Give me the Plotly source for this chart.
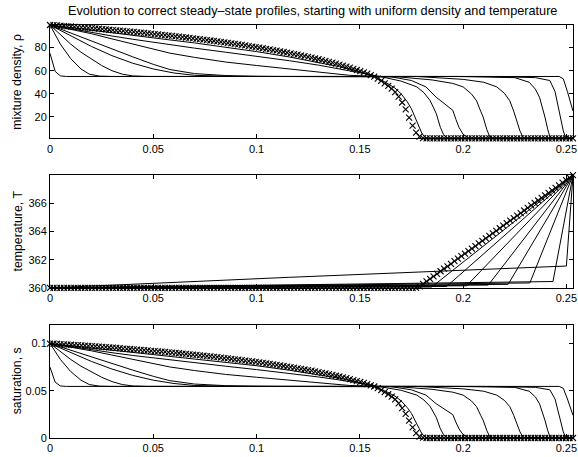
import plotly.graph_objects as go

# ---- steady-state profiles on the uniform mesh (150 cells over the column) ----
column_length = 0.2532
n_cells = 150
mesh_x = [round(i * column_length / n_cells, 5) for i in range(n_cells + 1)]

steady_rho = [
    99.5, 99.3, 99.1, 98.85, 98.6, 98.4, 98.2, 97.95, 97.7, 97.5,
    97.25, 97.0, 96.75, 96.5, 96.25, 95.95, 95.7, 95.4, 95.15, 94.9,
    94.6, 94.35, 94.05, 93.8, 93.5, 93.2, 92.9, 92.6, 92.3, 92.0,
    91.7, 91.4, 91.05, 90.75, 90.4, 90.1, 89.75, 89.4, 89.05, 88.7,
    88.35, 88.0, 87.6, 87.25, 86.85, 86.45, 86.1, 85.7, 85.25, 84.85,
    84.45, 84.0, 83.6, 83.15, 82.7, 82.25, 81.8, 81.3, 80.85, 80.4,
    79.9, 79.4, 78.9, 78.35, 77.8, 77.3, 76.75, 76.15, 75.6, 75.0,
    74.4, 73.8, 73.2, 72.55, 71.9, 71.25, 70.55, 69.9, 69.15, 68.4,
    67.7, 66.9, 66.1, 65.25, 64.35, 63.5, 62.6, 61.6, 60.6, 59.6,
    58.6, 57.4, 56.2, 54.9, 53.2, 51.2, 49.1, 46.9, 44.5, 41.5,
    37.5, 32.5, 26.5, 19.5, 12.5, 6.5, 3.0, 1.8, 1.5,
] + [1.5] * 42

steady_T = [360.0] * 106 + [
    360.10, 360.28, 360.46, 360.64, 360.82, 361.00, 361.18, 361.36, 361.53, 361.71,
    361.89, 362.07, 362.25, 362.43, 362.61, 362.79, 362.97, 363.15, 363.33, 363.51,
    363.69, 363.87, 364.05, 364.23, 364.41, 364.59, 364.77, 364.95, 365.13, 365.31,
    365.49, 365.67, 365.85, 366.03, 366.20, 366.38, 366.56, 366.74, 366.92, 367.10,
    367.28, 367.46, 367.64, 367.82, 368.00,
]

steady_s = [
    0.1000, 0.0998, 0.0996, 0.0993, 0.0991, 0.0989, 0.0987, 0.0984, 0.0982, 0.0980,
    0.0977, 0.0974, 0.0972, 0.0969, 0.0967, 0.0964, 0.0961, 0.0958, 0.0956, 0.0953,
    0.0950, 0.0947, 0.0944, 0.0942, 0.0939, 0.0936, 0.0933, 0.0930, 0.0927, 0.0923,
    0.0920, 0.0917, 0.0914, 0.0911, 0.0907, 0.0904, 0.0901, 0.0897, 0.0893, 0.0890,
    0.0886, 0.0883, 0.0879, 0.0875, 0.0871, 0.0867, 0.0863, 0.0859, 0.0855, 0.0851,
    0.0846, 0.0842, 0.0838, 0.0833, 0.0829, 0.0824, 0.0819, 0.0814, 0.0810, 0.0805,
    0.0800, 0.0795, 0.0790, 0.0784, 0.0779, 0.0773, 0.0768, 0.0762, 0.0756, 0.0750,
    0.0744, 0.0738, 0.0732, 0.0725, 0.0718, 0.0712, 0.0705, 0.0698, 0.0690, 0.0683,
    0.0676, 0.0667, 0.0659, 0.0651, 0.0641, 0.0633, 0.0623, 0.0613, 0.0603, 0.0593,
    0.0583, 0.0570, 0.0558, 0.0545, 0.0528, 0.0507, 0.0486, 0.0463, 0.0439, 0.0408,
    0.0367, 0.0316, 0.0255, 0.0184, 0.0112, 0.0051, 0.0015, 0.0003, 0.0,
] + [0.0] * 42

# ---- transient profiles, one entry per output time ----
rho_x = [
    [0, 0.0025, 0.005, 0.008, 0.2465, 0.2485, 0.2505, 0.2532],
    [0, 0.005, 0.01, 0.015, 0.019, 0.024, 0.03, 0.213, 0.235, 0.242, 0.2445, 0.2454,
     0.247, 0.2485, 0.2495, 0.2505, 0.2532],
    [0, 0.005, 0.01, 0.015, 0.02, 0.025, 0.03, 0.035, 0.04, 0.047, 0.197, 0.225, 0.232,
     0.235, 0.237, 0.2385, 0.2396, 0.241, 0.242, 0.2435, 0.2532],
    [0, 0.01, 0.02, 0.03, 0.04, 0.05, 0.06, 0.07, 0.08, 0.09, 0.1775, 0.2, 0.21, 0.2163,
     0.22, 0.2226, 0.2245, 0.226, 0.2275, 0.229, 0.2305, 0.2532],
    [0, 0.01, 0.02, 0.03, 0.04, 0.05, 0.058, 0.07, 0.085, 0.1, 0.11, 0.169, 0.185, 0.195,
     0.2, 0.204, 0.2065, 0.2085, 0.2097, 0.2115, 0.213, 0.2145, 0.2532],
    [0, 0.01, 0.02, 0.03, 0.04, 0.05, 0.058, 0.07, 0.085, 0.1, 0.116, 0.13, 0.145, 0.16,
     0.165, 0.175, 0.182, 0.187, 0.191, 0.195, 0.1965, 0.198, 0.2, 0.2018, 0.203, 0.2532],
    [0, 0.01, 0.02, 0.03, 0.04, 0.05, 0.058, 0.07, 0.085, 0.1, 0.116, 0.13, 0.14, 0.15,
     0.1597, 0.17, 0.1776, 0.181, 0.184, 0.187, 0.189, 0.1905, 0.192, 0.1935, 0.2532],
    [0, 0.01, 0.02, 0.03, 0.04, 0.05, 0.058, 0.07, 0.085, 0.1, 0.116, 0.13, 0.14, 0.15,
     0.157, 0.162, 0.167, 0.17, 0.173, 0.175, 0.177, 0.1785, 0.18, 0.1815, 0.183, 0.2532],
]

rho_vals = [
    [75, 59.4, 55.5, 55, 55, 53, 42, 25],
    [99.5, 83, 70.5, 61.5, 57, 55.3, 55, 55, 54, 51.5, 42, 34, 20, 8, 2.5, 1.5, 1.5],
    [99.5, 91, 83, 76, 70, 64.5, 60, 57, 55.5, 55, 55, 54, 50, 44, 37, 28, 20, 9, 3, 1.5, 1.5],
    [99.5, 90, 81, 73, 66.5, 61.5, 58, 56, 55.2, 55, 55, 52.5, 50, 46, 40.5, 34, 25, 17, 8,
     2.5, 1.5, 1.5],
    [99.5, 92.5, 85.5, 78.5, 72, 65.5, 61, 57.5, 55.8, 55.2, 55, 54.6, 52, 49, 46, 40, 34,
     25, 20, 9, 2.5, 1.5, 1.5],
    [99.5, 96, 92, 87.5, 83, 78.5, 75.2, 71.5, 67.5, 64.5, 61.5, 58.5, 56, 55, 54.8, 51.5,
     46, 37, 31, 25.8, 18, 11, 5, 2.5, 1.5, 1.5],
    [99.5, 96.2, 93, 90, 87.2, 84.5, 82.3, 79.5, 76, 72.5, 68.6, 64.8, 61.8, 58.2, 55, 51,
     46, 41, 34.3, 23, 11, 5, 2, 1.5, 1.5],
    [99.5, 97.2, 94.8, 92.5, 90.3, 88.2, 86.6, 84, 80.5, 76.5, 71.8, 67.2, 63.5, 59, 55,
     50.5, 45, 40, 33, 27, 19, 12, 6, 2.5, 1.5, 1.5],
]

s_vals = [
    [0.075, 0.0591, 0.0551, 0.0546, 0.0546, 0.0526, 0.0413, 0.024],
    [0.1, 0.0832, 0.0704, 0.0612, 0.0566, 0.0549, 0.0546, 0.0546, 0.0536, 0.0510, 0.0413,
     0.0332, 0.0189, 0.0066, 0.001, 0, 0],
    [0.1, 0.0913, 0.0832, 0.0760, 0.0699, 0.0643, 0.0597, 0.0566, 0.0551, 0.0546, 0.0546,
     0.0536, 0.0495, 0.0434, 0.0362, 0.0270, 0.0189, 0.0077, 0.0015, 0, 0],
    [0.1, 0.0903, 0.0811, 0.0730, 0.0663, 0.0612, 0.0577, 0.0556, 0.0548, 0.0546, 0.0546,
     0.0520, 0.0495, 0.0454, 0.0398, 0.0332, 0.0240, 0.0158, 0.0066, 0.001, 0, 0],
    [0.1, 0.0929, 0.0857, 0.0786, 0.0719, 0.0653, 0.0607, 0.0571, 0.0554, 0.0548, 0.0546,
     0.0542, 0.0515, 0.0485, 0.0454, 0.0393, 0.0332, 0.0240, 0.0189, 0.0077, 0.001, 0, 0],
    [0.1, 0.0964, 0.0923, 0.0878, 0.0832, 0.0786, 0.0752, 0.0714, 0.0673, 0.0643, 0.0612,
     0.0582, 0.0556, 0.0546, 0.0544, 0.0510, 0.0454, 0.0362, 0.0301, 0.0248, 0.0168,
     0.0097, 0.0036, 0.001, 0, 0],
    [0.1, 0.0966, 0.0934, 0.0903, 0.0874, 0.0847, 0.0825, 0.0796, 0.0760, 0.0724, 0.0685,
     0.0646, 0.0615, 0.0579, 0.0546, 0.0505, 0.0454, 0.0403, 0.0335, 0.0219, 0.0097,
     0.0036, 0.0005, 0, 0],
    [0.1, 0.0977, 0.0952, 0.0929, 0.0906, 0.0885, 0.0868, 0.0842, 0.0806, 0.0765, 0.0717,
     0.0670, 0.0633, 0.0587, 0.0546, 0.0500, 0.0444, 0.0393, 0.0321, 0.0260, 0.0179,
     0.0107, 0.0046, 0.001, 0, 0],
]

T_x = [
    [0, 0.116, 0.25, 0.2532],
    [0, 0.2435, 0.2532],
    [0, 0.2323, 0.2532],
    [0, 0.2218, 0.2532],
    [0, 0.2122, 0.2532],
    [0, 0.2017, 0.2532],
    [0, 0.192, 0.2532],
    [0, 0.1847, 0.2532],
]
T_vals = [
    [360, 360.75, 361.55, 368],
    [360, 360.45, 368],
    [360, 360.35, 368],
    [360, 360.25, 368],
    [360, 360.2, 368],
    [360, 360.15, 368],
    [360, 360.1, 368],
    [360, 360.05, 368],
]

x_ticks = [0, 0.05, 0.1, 0.15, 0.2, 0.25]
x_ticktext = ["0", "0.05", "0.1", "0.15", "0.2", "0.25"]

FONT = "Liberation Sans, Arial, Helvetica, sans-serif"
line_style = dict(color="black", width=1)
marker_style = dict(symbol="x-thin", size=6, color="black",
                    line=dict(color="black", width=1.1))

fig = go.Figure()

panels = [
    ("x", "y", rho_x, rho_vals, steady_rho),
    ("x2", "y2", T_x, T_vals, steady_T),
    ("x3", "y3", rho_x, s_vals, steady_s),
]
for xa, ya, xs, ys, steady in panels:
    for cx, cy in zip(xs, ys):
        fig.add_trace(go.Scatter(x=cx, y=cy, mode="lines", line=line_style,
                                 xaxis=xa, yaxis=ya, showlegend=False,
                                 hoverinfo="skip"))
    fig.add_trace(go.Scatter(x=mesh_x, y=steady, mode="markers",
                             marker=marker_style, cliponaxis=False,
                             xaxis=xa, yaxis=ya, showlegend=False))

axis_common = dict(
    showline=True, linecolor="black", linewidth=1, mirror="ticks",
    ticks="inside", ticklen=4, tickcolor="black", tickwidth=1,
    showgrid=False, zeroline=False, automargin=False,
    tickfont=dict(family=FONT, size=11, color="black"),
)
x_common = dict(axis_common, range=[0, column_length], tickvals=x_ticks,
                ticktext=x_ticktext)

dom_top = [0.7255, 1.0]
dom_mid = [0.3635, 0.6365]
dom_bot = [0.0, 0.2745]

fig.update_layout(
    width=578, height=457,
    margin=dict(l=50, r=4.7, t=25, b=19.3),
    paper_bgcolor="white", plot_bgcolor="white",
    font=dict(family=FONT, size=11, color="black"),
    xaxis=dict(x_common, anchor="y", domain=[0, 1]),
    xaxis2=dict(x_common, anchor="y2", domain=[0, 1]),
    xaxis3=dict(x_common, anchor="y3", domain=[0, 1]),
    yaxis=dict(axis_common, anchor="x", domain=dom_top, range=[1.5, 99.5],
               tickvals=[20, 40, 60, 80]),
    yaxis2=dict(axis_common, anchor="x2", domain=dom_mid, range=[360, 368],
                tickvals=[360, 362, 364, 366]),
    yaxis3=dict(axis_common, anchor="x3", domain=dom_bot, range=[0, 0.12],
                tickvals=[0, 0.05, 0.1], ticktext=["0", "0.05", "0.1"]),
    showlegend=False,
)

fig.add_annotation(
    text="Evolution to correct steady\u2013state profiles, starting with uniform density and temperature",
    xref="paper", yref="paper", x=0.5026, y=1.0, yshift=14,
    xanchor="center", yanchor="middle", showarrow=False,
    font=dict(family=FONT, size=12.7, color="black"),
)

y_titles = [("mixture density, \u03c1", dom_top), ("temperature, T", dom_mid),
            ("saturation, s", dom_bot)]
for label, dom in y_titles:
    fig.add_annotation(
        text=label, xref="paper", yref="paper",
        x=0, xshift=-33, y=(dom[0] + dom[1]) / 2,
        xanchor="center", yanchor="middle", textangle=-90, showarrow=False,
        font=dict(family=FONT, size=12.3, color="black"),
    )

fig.write_html("out.html")
